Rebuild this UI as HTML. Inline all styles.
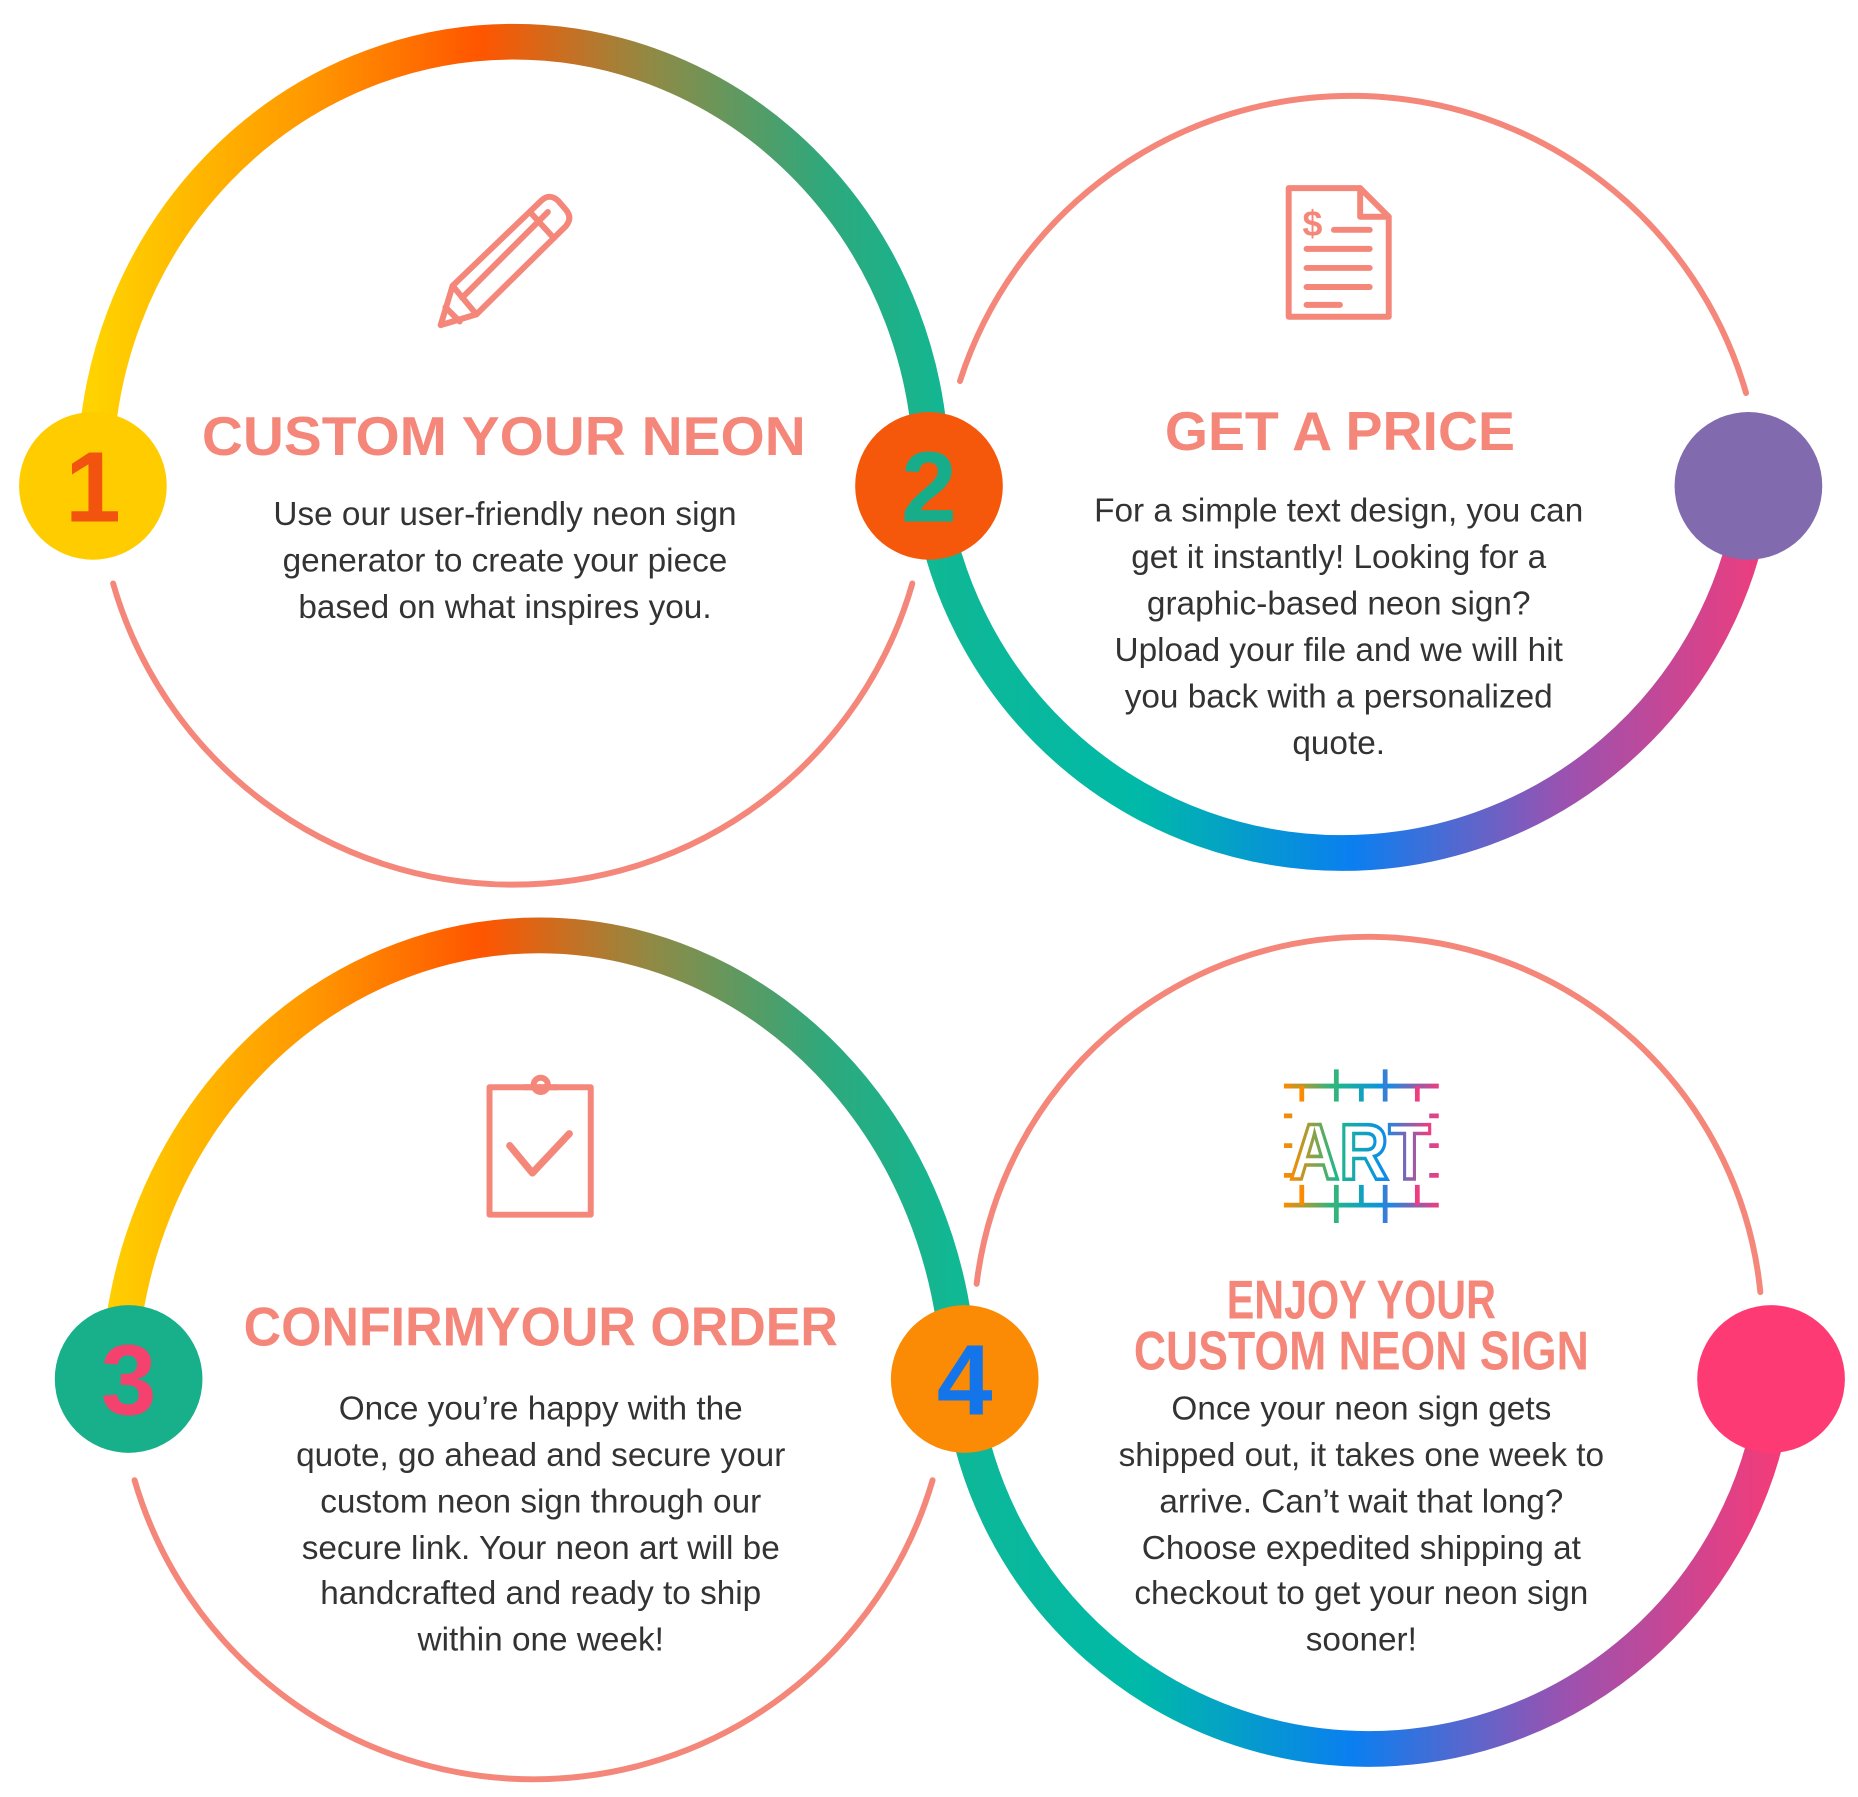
<!DOCTYPE html>
<html><head><meta charset="utf-8"><style>
html,body{margin:0;padding:0;background:#fff;}
svg{display:block;}
text{font-family:"Liberation Sans",sans-serif;}
.t{font-weight:bold;fill:#f4877a;font-size:46px;text-anchor:middle;}
.b{fill:#333;font-size:28px;text-anchor:middle;}
.n{font-weight:900;font-size:84px;text-anchor:middle;}
.thin{fill:none;stroke:#f4877a;stroke-width:5;stroke-linecap:round;}
.ic{fill:none;stroke:#f4877a;stroke-width:5;stroke-linejoin:round;stroke-linecap:round;}
</style></head><body>
<svg width="1858" height="1797" viewBox="0 0 1560 1509" preserveAspectRatio="none" xmlns="http://www.w3.org/2000/svg">
<defs>
<linearGradient id="gt" gradientUnits="userSpaceOnUse" x1="80" y1="0" x2="800" y2="0">
<stop offset="0" stop-color="#ffd200"/><stop offset="0.25" stop-color="#ff9800"/><stop offset="0.45" stop-color="#ff5500"/><stop offset="0.65" stop-color="#8f8a45"/><stop offset="0.85" stop-color="#2fa87c"/><stop offset="1" stop-color="#10b894"/></linearGradient>
<linearGradient id="gb" gradientUnits="userSpaceOnUse" x1="780" y1="0" x2="1490" y2="0">
<stop offset="0" stop-color="#10b894"/><stop offset="0.25" stop-color="#00b9a8"/><stop offset="0.5" stop-color="#0a7ff0"/><stop offset="0.75" stop-color="#9a52b0"/><stop offset="1" stop-color="#f23c7a"/></linearGradient>
<linearGradient id="ga" x1="0" y1="0" x2="1" y2="0">
<stop offset="0" stop-color="#ff8a00"/><stop offset="0.33" stop-color="#1db88a"/><stop offset="0.66" stop-color="#0a8fe8"/><stop offset="1" stop-color="#f03c80"/></linearGradient>
</defs>

<!-- circle 1 -->
<path d="M80,400 A351,365 0 0 1 782,400" fill="none" stroke="url(#gt)" stroke-width="30"/>
<path class="thin" d="M95,490 A349,349 0 0 0 766,490"/>
<!-- circle 2 -->
<path class="thin" d="M806,320 A345,345 0 0 1 1466,330"/>
<path d="M782,420 A349,349 0 0 0 1472,420" fill="none" stroke="url(#gb)" stroke-width="30"/>
<!-- circle 3 -->
<path d="M100,1150 A353,385 0 0 1 805,1150" fill="none" stroke="url(#gt)" stroke-width="30"/>
<path class="thin" d="M113,1243 A349,349 0 0 0 783,1243"/>
<!-- circle 4 -->
<path class="thin" d="M820,1078 A331,331 0 0 1 1478,1085"/>
<path d="M808,1170 A344,344 0 0 0 1490,1170" fill="none" stroke="url(#gb)" stroke-width="30"/>

<!-- badges -->
<circle cx="78" cy="408" r="62" fill="#ffcc00"/>
<text class="n" x="78" y="438" fill="#f2540f">1</text>
<circle cx="780" cy="408" r="62" fill="#f6580b"/>
<text class="n" x="780" y="438" fill="#17ad8a">2</text>
<circle cx="1468" cy="408" r="62" fill="#826aaf"/>
<circle cx="108" cy="1158" r="62" fill="#17b08a"/>
<text class="n" x="108" y="1188" fill="#f4416e">3</text>
<circle cx="810" cy="1158" r="62" fill="#fb8a05"/>
<text class="n" x="810" y="1188" fill="#1474ea">4</text>
<circle cx="1487" cy="1158" r="62" fill="#fe3a74"/>

<!-- pencil icon -->
<g class="ic">
<path d="M370,273 L380,240 L455,168 Q462,162 469,169 L475,176 Q481,183 475,190 L400,264 Z"/>
<path d="M380,240 L400,264"/><path d="M445,178 L465,200"/><path d="M374,258 L386,270"/>
<path d="M388,250 L460,178"/>
</g>
<!-- document icon -->
<g class="ic">
<path d="M1082,158 L1142,158 L1166,182 L1166,266 L1082,266 Z"/>
<path d="M1142,158 L1142,182 L1166,182"/>
<path d="M1120,193 L1150,193"/><path d="M1097,209 L1150,209"/><path d="M1097,225 L1150,225"/><path d="M1097,241 L1150,241"/><path d="M1097,256 L1125,256"/>
</g>
<text x="1102" y="198" font-size="30" font-weight="bold" fill="#f4877a" text-anchor="middle">$</text>
<!-- clipboard icon -->
<g class="ic">
<rect x="411" y="913" width="85" height="107"/>
<path d="M440,913 L468,913"/><circle cx="454" cy="911" r="6"/>
<path d="M428,962 L447,985 L478,952" stroke-width="6"/>
</g>
<!-- ART icon -->
<g fill="none" stroke="url(#ga)" stroke-width="4">
<path d="M1078,912 L1208,912 M1078,1012 L1208,1012 M1078,937 L1208,937 M1078,962 L1208,962 M1078,987 L1208,987"/>
<path d="M1122,898 L1122,1027 M1163,898 L1163,1027 M1093,912 L1093,1012 M1143,912 L1143,1012 M1190,912 L1190,1012"/>
</g>
<rect x="1085" y="925" width="115" height="70" fill="#fff"/>
<text x="1142" y="990" font-size="66" font-weight="bold" text-anchor="middle" fill="none" stroke="url(#ga)" stroke-width="3" textLength="118" lengthAdjust="spacingAndGlyphs">ART</text>

<!-- texts -->
<text class="t" x="423" y="382" textLength="507" lengthAdjust="spacingAndGlyphs">CUSTOM YOUR NEON</text>
<text class="b" x="424" y="441">Use our user-friendly neon sign</text>
<text class="b" x="424" y="480">generator to create your piece</text>
<text class="b" x="424" y="519">based on what inspires you.</text>

<text class="t" x="1125" y="378" textLength="294" lengthAdjust="spacingAndGlyphs">GET A PRICE</text>
<text class="b" x="1124" y="438">For a simple text design, you can</text>
<text class="b" x="1124" y="477">get it instantly! Looking for a</text>
<text class="b" x="1124" y="516">graphic-based neon sign?</text>
<text class="b" x="1124" y="555">Upload your file and we will hit</text>
<text class="b" x="1124" y="594">you back with a personalized</text>
<text class="b" x="1124" y="633">quote.</text>

<text class="t" x="454" y="1130" textLength="499" lengthAdjust="spacingAndGlyphs">CONFIRMYOUR ORDER</text>
<text class="b" x="454" y="1192">Once you’re happy with the</text>
<text class="b" x="454" y="1231">quote, go ahead and secure your</text>
<text class="b" x="454" y="1270">custom neon sign through our</text>
<text class="b" x="454" y="1309">secure link. Your neon art will be</text>
<text class="b" x="454" y="1347">handcrafted and ready to ship</text>
<text class="b" x="454" y="1386">within one week!</text>

<text class="t" x="1143" y="1107" font-size="38" textLength="226" lengthAdjust="spacingAndGlyphs">ENJOY YOUR</text>
<text class="t" x="1143" y="1150" font-size="38" textLength="382" lengthAdjust="spacingAndGlyphs">CUSTOM NEON SIGN</text>
<text class="b" x="1143" y="1192">Once your neon sign gets</text>
<text class="b" x="1143" y="1231">shipped out, it takes one week to</text>
<text class="b" x="1143" y="1270">arrive. Can’t wait that long?</text>
<text class="b" x="1143" y="1309">Choose expedited shipping at</text>
<text class="b" x="1143" y="1347">checkout to get your neon sign</text>
<text class="b" x="1143" y="1386">sooner!</text>
</svg>
</body></html>
